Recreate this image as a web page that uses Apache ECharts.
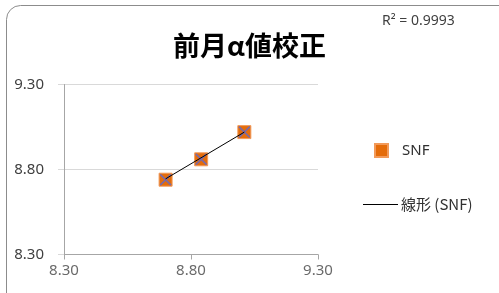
<!DOCTYPE html>
<html>
<head>
<meta charset="utf-8">
<script src="https://cdn.jsdelivr.net/npm/echarts@6/dist/echarts.min.js"></script>
<style>
  html, body { margin: 0; padding: 0; background: #fff; }
  #chart { width: 499px; height: 293px; }
</style>
</head>
<body>
<div id="chart"></div>
<script>
// measured points (x, y)
const snfPoints = [[8.70, 8.74], [8.84, 8.86], [9.01, 9.02]];
// trendline ends
const trendLine = [[8.70, 8.745], [9.01, 9.02]];
const axisMin = 8.3;
const axisMax = 9.3;
const axisStep = 0.5;
const titleText = '前月α値校正';
const r2Text = 'R² = 0.9993';

const myChart = echarts.init(document.getElementById('chart'));
const font = '"Noto Sans", "Noto Sans CJK JP", sans-serif';
const xMark = 'path://M0,1 L1,0 L10,9 L9,10 Z M1,10 L0,9 L9,0 L10,1 Z';

const option = {
    animation: false,
    title: {
        text: titleText,
        left: 'center',
        top: 27,
        padding: [5, 10, 5, 5],
        textStyle: {
            fontFamily: '"Noto Sans CJK JP", sans-serif',
            fontWeight: 'bold',
            fontSize: 27,
            color: '#000'
        }
    },
    graphic: [
        {
            type: 'rect',
            shape: { x: 6.5, y: 5.5, width: 510, height: 310, r: 14 },
            style: { fill: 'none', stroke: '#8c8c8c', lineWidth: 1 },
            z: -1
        },
        {
            type: 'text',
            left: 382,
            top: 14,
            style: { text: r2Text, font: '14px ' + font, fill: '#404040' }
        }
    ],
    legend: [{
        data: [{ name: 'SNF', icon: 'rect' }],
        left: 374,
        top: 143,
        padding: 0,
        itemWidth: 13,
        itemHeight: 13,
        textStyle: { fontFamily: font, fontSize: 15, color: '#303030', padding: [0, 0, 0, 9] }
    }, {
        data: [{ name: '線形 (SNF)', icon: 'rect', itemStyle: { color: '#000' } }],
        left: 363,
        top: 197,
        padding: 0,
        itemWidth: 35,
        itemHeight: 1,
        textStyle: { fontFamily: '"Noto Sans CJK JP", sans-serif', fontSize: 15, color: '#303030', padding: [0, 0, 0, -2] }
    }],
    grid: { left: 64, right: 181, top: 84.5, bottom: 38.5 },
    xAxis: {
        type: 'value',
        min: axisMin,
        max: axisMax,
        interval: axisStep,
        axisLine: { show: true, lineStyle: { color: '#a6a6a6' } },
        axisTick: { show: true, length: 5, lineStyle: { color: '#a6a6a6' } },
        splitLine: { show: false },
        axisLabel: {
            margin: 9,
            fontFamily: font,
            fontSize: 15,
            color: '#6a6a6a',
            formatter: v => v.toFixed(2)
        }
    },
    yAxis: {
        type: 'value',
        min: axisMin,
        max: axisMax,
        interval: axisStep,
        axisLine: { show: true, lineStyle: { color: '#a6a6a6' } },
        axisTick: { show: true, length: 6, lineStyle: { color: '#d9d9d9' } },
        splitLine: { show: true, lineStyle: { color: '#d9d9d9' } },
        axisLabel: {
            margin: 20,
            fontFamily: font,
            fontSize: 15,
            color: '#404040',
            formatter: v => v.toFixed(2)
        }
    },
    series: [
        {
            name: 'SNF',
            type: 'scatter',
            data: snfPoints,
            symbol: 'rect',
            symbolSize: 13,
            itemStyle: { color: '#e46c0a', borderColor: '#f29a5a', borderWidth: 1, opacity: 1 },
            z: 2
        },
        {
            name: 'SNF-x',
            type: 'scatter',
            data: snfPoints,
            symbol: xMark,
            symbolSize: 12,
            itemStyle: { color: '#7b6aa6', opacity: 1 },
            silent: true,
            z: 3
        },
        {
            name: '線形 (SNF)',
            type: 'line',
            data: trendLine,
            symbol: 'none',
            lineStyle: { color: '#000', width: 1 },
            itemStyle: { color: '#000' },
            z: 4
        }
    ]
};
myChart.setOption(option);
</script>
</body>
</html>
